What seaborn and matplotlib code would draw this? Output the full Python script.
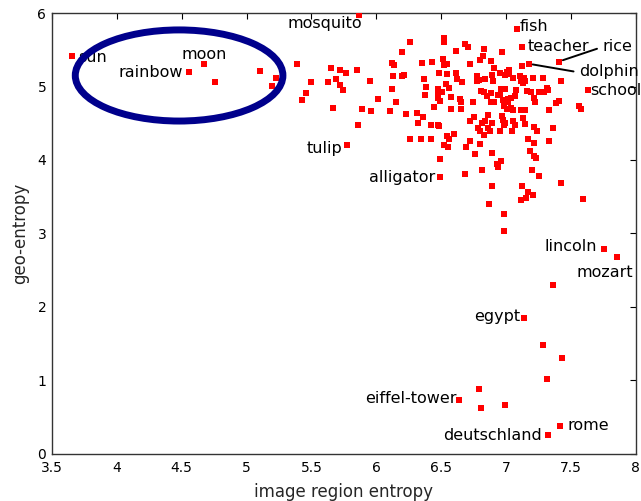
import matplotlib
matplotlib.use('Agg')
import matplotlib.pyplot as plt
from matplotlib.patches import Ellipse
import seaborn as sns
import pandas as pd

# unlabeled words: (image region entropy, geo-entropy)
region_entropy = [
    4.76, 5.107, 5.228, 5.195, 5.39, 5.50, 5.46, 5.43, 5.647, 5.722, 5.766, 5.686,
    5.624, 5.717, 5.745, 5.663, 5.853, 5.954, 6.015, 5.887, 5.956, 5.856,
    6.262, 6.198, 6.522, 6.522, 6.68, 6.704, 6.615, 6.826, 6.823, 6.97, 6.118, 6.139,
    6.355, 6.432, 6.512, 6.545, 6.525, 6.72, 6.80, 6.882, 6.906, 6.486, 6.545, 6.612,
    6.126, 6.198, 6.214, 6.365, 6.625, 6.658, 6.779, 6.789, 6.772, 6.836, 6.893, 6.898,
    6.951, 6.995, 7.008, 7.02, 6.383, 6.476, 6.507, 6.561, 6.54, 6.121, 6.378, 6.473,
    6.478, 6.494, 6.576, 6.646, 6.651, 6.743, 6.805, 6.833, 6.851, 6.882, 6.934, 6.955,
    6.995, 6.962, 6.88, 6.906, 6.978, 7.011, 6.982, 6.149, 6.105, 6.226, 6.443, 6.579,
    6.653, 6.316, 6.36, 6.322, 6.422, 6.478, 6.486, 6.72, 6.754, 6.782, 6.818, 6.841,
    6.862, 6.895, 6.862, 6.965, 6.978, 6.988, 6.874, 6.955, 6.982, 6.802, 6.828,
    6.257, 6.347, 6.424, 6.545, 6.561, 6.60, 6.525, 6.553, 6.725, 6.692, 6.797, 6.491,
    6.764, 6.89, 6.959, 6.934, 6.929, 6.687, 6.816, 6.89, 6.867, 6.982, 6.982,
    7.119, 7.019, 7.052, 7.106, 7.137, 7.117, 7.144, 7.134, 7.209, 7.283, 7.425,
    7.08, 7.07, 7.034, 7.011, 7.163, 7.188, 7.214, 7.225, 7.25, 7.291, 7.322, 7.317,
    7.41, 7.381, 7.327, 7.559, 7.579, 7.008, 7.037, 7.055, 7.114, 7.142, 7.132, 7.055,
    7.065, 7.214, 7.363, 7.145, 7.235, 7.047, 7.171, 7.214, 7.33, 7.186, 7.214, 7.227,
    7.198, 7.252, 7.422, 7.121, 7.167, 7.209, 7.15, 7.111, 7.59,
    7.358, 7.281, 7.427, 7.312, 6.789, 6.805, 6.993,
]
geo_entropy = [
    5.06, 5.21, 5.11, 5.01, 5.30, 5.06, 4.91, 4.81, 5.25, 5.22, 5.18, 5.10,
    5.06, 5.02, 4.95, 4.71, 5.23, 5.07, 4.83, 4.69, 4.67, 4.48,
    5.61, 5.47, 5.66, 5.60, 5.58, 5.54, 5.49, 5.51, 5.42, 5.47, 5.32, 5.29,
    5.32, 5.33, 5.38, 5.30, 5.29, 5.31, 5.36, 5.35, 5.25, 5.19, 5.17, 5.19,
    5.14, 5.14, 5.16, 5.10, 5.10, 5.06, 5.14, 5.09, 5.08, 5.10, 5.15, 5.08,
    5.18, 5.15, 5.20, 5.17, 4.99, 4.97, 4.93, 4.98, 5.03, 4.96, 4.89, 4.88,
    4.84, 4.80, 4.86, 4.83, 4.79, 4.79, 4.94, 4.92, 4.87, 4.91, 4.89, 4.89,
    4.97, 4.97, 4.79, 4.79, 4.81, 4.83, 4.74, 4.79, 4.66, 4.62, 4.72, 4.69,
    4.70, 4.64, 4.58, 4.50, 4.47, 4.48, 4.46, 4.53, 4.59, 4.44, 4.50, 4.53,
    4.61, 4.50, 4.43, 4.60, 4.54, 4.51, 4.39, 4.39, 4.48, 4.39, 4.34,
    4.29, 4.28, 4.28, 4.32, 4.29, 4.36, 4.20, 4.17, 4.26, 4.17, 4.22, 4.02,
    4.08, 4.09, 3.99, 3.91, 3.94, 3.81, 3.87, 3.64, 3.40, 3.26, 3.03,
    5.28, 5.22, 5.11, 5.14, 5.12, 5.08, 5.07, 5.05, 5.12, 5.12, 5.08,
    4.95, 4.87, 4.85, 4.79, 4.94, 4.92, 4.85, 4.79, 4.92, 4.92, 4.95, 4.98,
    4.80, 4.77, 4.68, 4.74, 4.70, 4.70, 4.71, 4.68, 4.68, 4.68, 4.57, 4.53,
    4.48, 4.45, 4.43, 4.49, 4.39, 4.39, 4.28, 4.23, 4.26, 4.12, 4.05, 4.03,
    3.87, 3.78, 3.68, 3.65, 3.56, 3.53, 3.48, 3.45, 3.47,
    2.30, 1.48, 1.31, 1.02, 0.88, 0.62, 0.67,
]

# labeled words
words = ['sun', 'rainbow', 'moon', 'mosquito', 'fish', 'teacher', 'rice', 'dolphin',
         'school', 'tulip', 'alligator', 'lincoln', 'mozart', 'egypt', 'eiffel-tower',
         'rome', 'deutschland']
word_region = [3.652, 4.559, 4.673, 5.864, 7.083, 7.119, 7.407, 7.173,
               7.63, 5.776, 6.489, 7.754, 7.857, 7.14, 6.64, 7.417, 7.319]
word_geo = [5.41, 5.20, 5.30, 5.97, 5.78, 5.54, 5.34, 5.31,
            4.95, 4.21, 3.77, 2.79, 2.68, 1.85, 0.74, 0.38, 0.26]

# label placement: (ha, dx, dy) in pixels from the point to the text baseline
placement = {
    'sun': ('left', 7, -6), 'rainbow': ('right', -6, -5.5), 'moon': ('center', 0, 5),
    'mosquito': ('right', 3, -12.5), 'fish': ('left', 3, -2), 'teacher': ('left', 6, -4),
    'rice': ('left', 44, 11), 'dolphin': ('left', 51, -12.5), 'school': ('left', 2.5, -5),
    'tulip': ('right', -5, -8), 'alligator': ('right', -5, -5), 'lincoln': ('right', -6.5, -2.5),
    'mozart': ('right', 15.5, -20), 'egypt': ('right', -4.5, -3.5),
    'eiffel-tower': ('right', -3, -3), 'rome': ('left', 7, -4.5), 'deutschland': ('right', -6, -5),
}
with_line = {'rice', 'dolphin'}

sns.set_style('white')
plt.rcParams['font.family'] = ['DejaVu Sans']

df = pd.DataFrame({'x': region_entropy + word_region, 'y': geo_entropy + word_geo})

fig = plt.figure(figsize=(6.41, 5.01), dpi=100)
ax = fig.add_axes([0.081, 0.094, 0.911, 0.880])
sns.scatterplot(data=df, x='x', y='y', marker='s', color='red', s=18,
                linewidth=0, ax=ax, zorder=3)

for name, wx, wy in zip(words, word_region, word_geo):
    ha, dx, dy = placement[name]
    kw = {}
    if name in with_line:
        kw['arrowprops'] = dict(arrowstyle='-', color='black', lw=1.4,
                                shrinkA=2, shrinkB=3, relpos=(0, 0.45))
    ax.annotate(name, (wx, wy), xytext=(dx, dy), textcoords='offset pixels',
                ha=ha, va='baseline', fontsize=11.5, color='black',
                annotation_clip=False, zorder=3, **kw)

ax.add_patch(Ellipse((4.48, 5.15), 1.60, 1.24, fill=False, edgecolor='#00008c',
                     lw=5, zorder=6))

ax.set_xlim(3.5, 8)
ax.set_ylim(0, 6)
xt = [3.5, 4, 4.5, 5, 5.5, 6, 6.5, 7, 7.5, 8]
ax.set_xticks(xt)
ax.set_xticklabels(['3.5', '4', '4.5', '5', '5.5', '6', '6.5', '7', '7.5', '8'])
ax.set_yticks(range(7))
ax.set_yticklabels([str(v) for v in range(7)])
ax.tick_params(direction='in', top=True, right=True, length=4.5, width=0.8,
               labelsize=10, colors='black')
ax.tick_params(axis='x', pad=5)
ax.tick_params(axis='y', pad=4)
for sp in ax.spines.values():
    sp.set_color('#333333')
    sp.set_linewidth(1.0)

ax.set_xlabel('image region entropy', fontsize=12, labelpad=6)
ax.set_ylabel('geo-entropy', fontsize=12, labelpad=6)

fig.savefig('out.png', dpi=100)
